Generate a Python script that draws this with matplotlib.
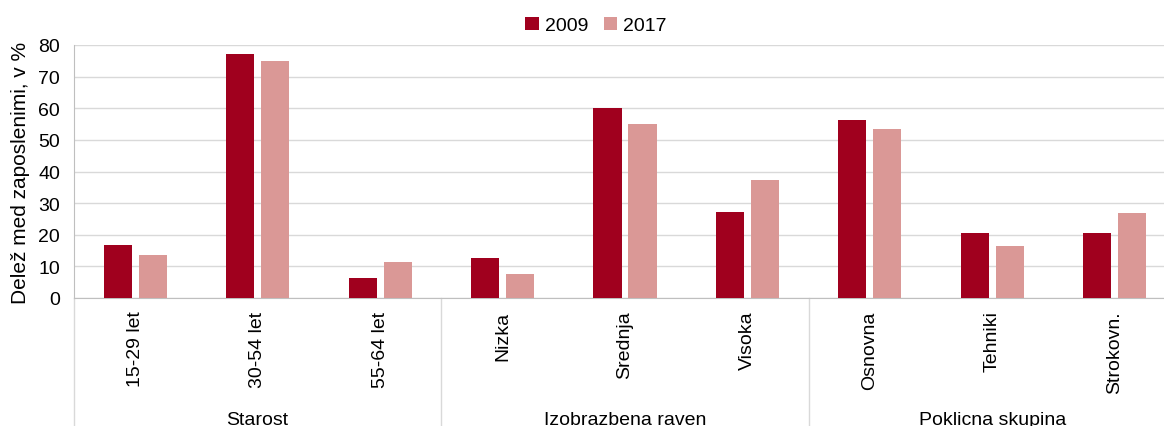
import numpy as np
import matplotlib.pyplot as plt
import matplotlib.transforms as mtransforms

plt.rcParams['font.family'] = ['Liberation Sans', 'DejaVu Sans']

categories = ['15-29 let', '30-54 let', '55-64 let', 'Nizka', 'Srednja', 'Visoka',
              'Osnovna', 'Tehniki', 'Strokovn.']
groups = ['Starost', 'Izobrazbena raven', 'Poklicna skupina']
group_sizes = [3, 3, 3]
v2009 = [16.7, 77.0, 6.4, 12.7, 60.1, 27.2, 56.4, 20.4, 20.6]
v2017 = [13.6, 75.0, 11.4, 7.6, 55.0, 37.3, 53.5, 16.5, 26.9]

c2009 = '#A0001E'
c2017 = '#DA9896'
W, H = 1164, 427
fs = 14

fig = plt.figure(figsize=(W / 100, H / 100), dpi=100)
ax = fig.add_axes([74 / W, (H - 299) / H, 1102 / W, 253 / H])

x = np.arange(len(categories))
bw = 0.23
ax.bar(x - 0.143, v2009, bw, color=c2009, label='2009', zorder=3)
ax.bar(x + 0.143, v2017, bw, color=c2017, label='2017', zorder=3)

ax.set_xlim(-0.5, len(categories) - 0.5)
ax.set_ylim(0, 80)
ax.set_yticks(range(0, 81, 10))
ax.yaxis.grid(True, color='#D9D9D9', linewidth=1, zorder=0)
ax.tick_params(axis='y', length=0, labelsize=fs, pad=10)

ax.set_xticks(x)
ax.set_xticklabels(categories, rotation=90, va='top', ha='center')
ax.tick_params(axis='x', length=0, labelsize=fs, pad=9)

for s in ['top', 'right']:
    ax.spines[s].set_visible(False)
ax.spines['left'].set_color('#BFBFBF')
ax.spines['bottom'].set_color('#BFBFBF')

ax.set_ylabel('Delež med zaposlenimi, v %', fontsize=15, labelpad=6)

# group separators and labels below axis
trans = mtransforms.blended_transform_factory(ax.transData, ax.transAxes)
edges = np.concatenate([[0], np.cumsum(group_sizes)]) - 0.5
for e in edges:
    ax.plot([e, e], [0, -0.51], transform=trans, color='#D9D9D9', linewidth=1,
            clip_on=False)
for i, g in enumerate(groups):
    mid = (edges[i] + edges[i + 1]) / 2
    ax.text(mid, -0.48, g, transform=trans, ha='center', va='center', fontsize=fs)

fig.legend(loc='upper center', bbox_to_anchor=(0.512, 1.0), ncol=2, frameon=False,
           fontsize=fs, handlelength=0.7, handleheight=0.7, handletextpad=0.3,
           columnspacing=0.8)

fig.savefig('out.png', dpi=100)
